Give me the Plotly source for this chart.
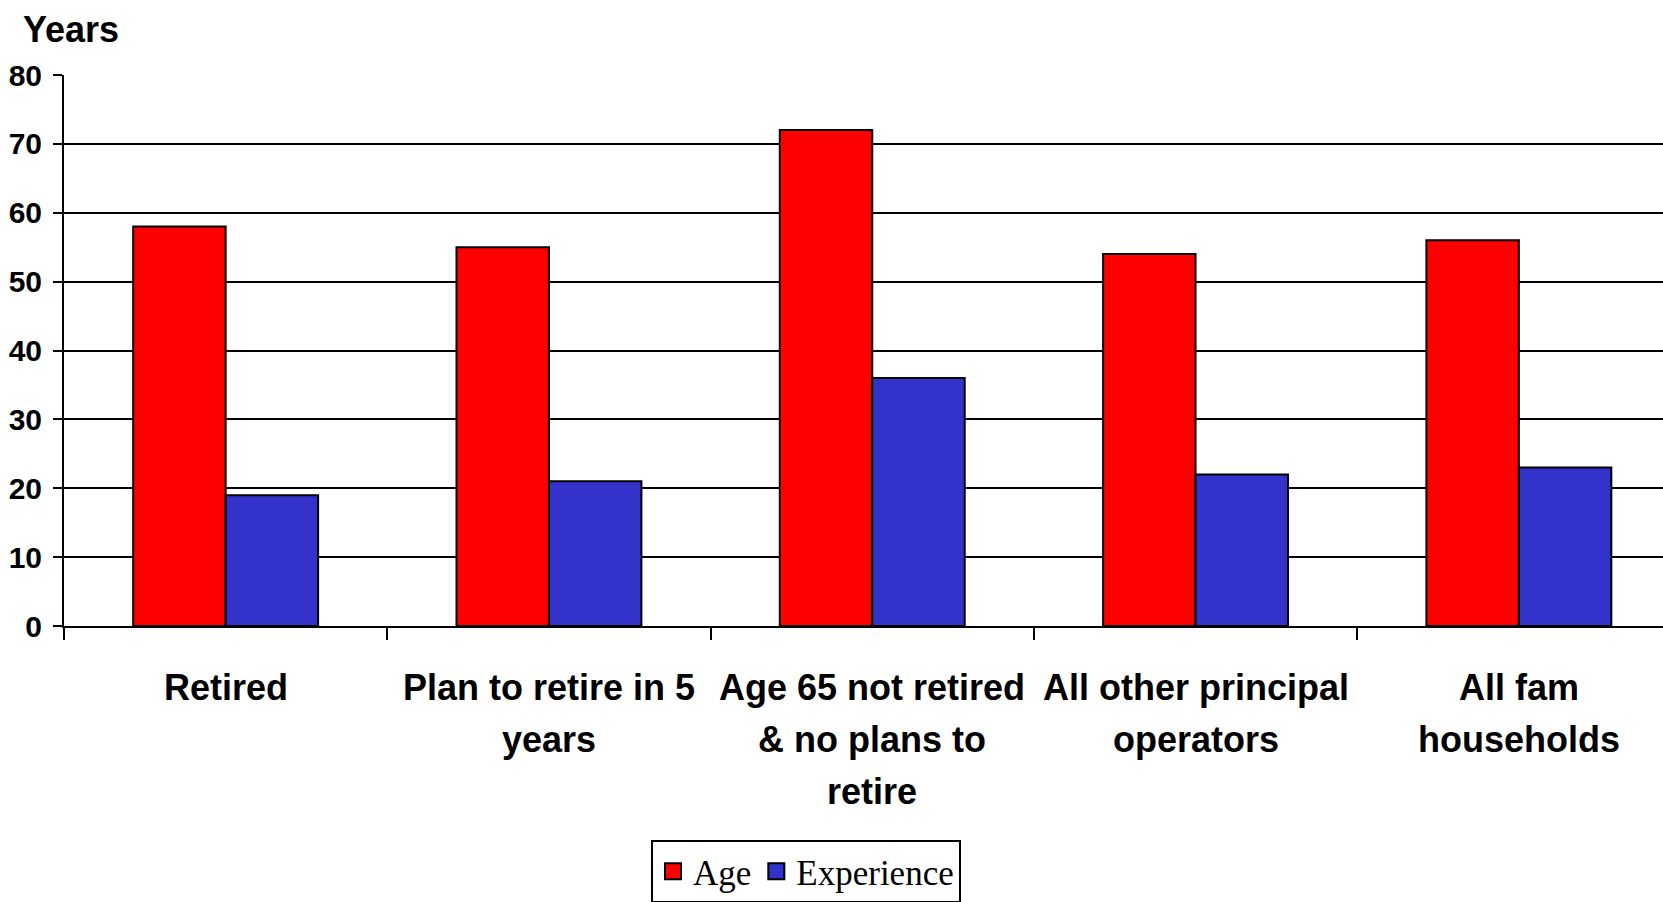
import plotly.graph_objects as go

categories = [
    "Retired",
    "Plan to retire in 5<br>years",
    "Age 65 not retired<br>& no plans to<br>retire",
    "All other principal<br>operators",
    "All fam<br>households",
]
age = [58, 55, 72, 54, 56]
experience = [19, 21, 36, 22, 23]
y_ticks = [0, 10, 20, 30, 40, 50, 60, 70, 80]

W, H = 1663, 902
ML, MR, MT, MB = 64, 0, 75, 276
plot_w = W - ML - MR
plot_h = H - MT - MB
cat_px = 323.3  # width of one category slot in pixels
x_max = -0.5 + plot_w / cat_px

RED, BLUE = "#FF0000", "#3333CC"
bold = dict(family="Liberation Sans, Arial", color="black", weight="bold")

fig = go.Figure()
fig.add_trace(go.Bar(
    x=categories, y=age, name="Age", showlegend=False,
    marker=dict(color=RED, line=dict(color="black", width=2)),
))
fig.add_trace(go.Bar(
    x=categories, y=experience, name="Experience", showlegend=False,
    marker=dict(color=BLUE, line=dict(color="black", width=2)),
))
# legend entries with larger square swatches
for name, col in [("Age", RED), ("Experience", BLUE)]:
    fig.add_trace(go.Scatter(
        x=[None], y=[None], mode="markers", name=name,
        marker=dict(symbol="square", size=20, color=col,
                    line=dict(color="black", width=2)),
    ))

# multi-line category labels, one annotation per line for wider line spacing
annotations = []
line_step = 52
first_line = 687
for cat in categories:
    for i, line in enumerate(cat.split("<br>")):
        y_px = first_line + i * line_step
        annotations.append(dict(
            text=line, x=cat, xref="x", yref="paper",
            y=-(y_px - (MT + plot_h)) / plot_h, yanchor="middle",
            showarrow=False, font=dict(size=36, **bold),
        ))

annotations.append(dict(
    text="Years", xref="paper", yref="paper",
    x=-(ML - 21) / plot_w, xanchor="left",
    y=1 + (MT - 29) / plot_h, yanchor="middle",
    showarrow=False, font=dict(size=36, **bold),
))

fig.update_layout(
    width=W, height=H,
    margin=dict(l=ML, r=MR, t=MT, b=MB, autoexpand=False),
    paper_bgcolor="white", plot_bgcolor="white",
    barmode="group", bargap=0.428, bargroupgap=0,
    showlegend=True,
    legend=dict(
        orientation="h", x=(806 - ML) / plot_w, xanchor="center",
        y=-(840 - (MT + plot_h)) / plot_h, yanchor="top",
        bordercolor="black", borderwidth=2, bgcolor="white",
        font=dict(family="Liberation Serif, Times New Roman", size=35, color="black"),
        itemwidth=30, tracegroupgap=0,
    ),
    annotations=annotations,
)

fig.update_xaxes(
    type="category", range=[-0.5, x_max],
    showgrid=False, showline=True, linecolor="black", linewidth=2,
    ticks="outside", tickson="boundaries", ticklen=12, tickwidth=2, tickcolor="black",
    showticklabels=False, zeroline=False,
)
fig.update_yaxes(
    range=[0, 80], tickvals=y_ticks,
    showgrid=True, gridcolor="black", gridwidth=2,
    showline=True, linecolor="black", linewidth=2,
    ticks="outside", ticklen=9, tickwidth=2, tickcolor="black",
    tickfont=dict(size=30, **bold), ticklabelstandoff=5,
    zeroline=False,
)

fig.write_html("out.html")
